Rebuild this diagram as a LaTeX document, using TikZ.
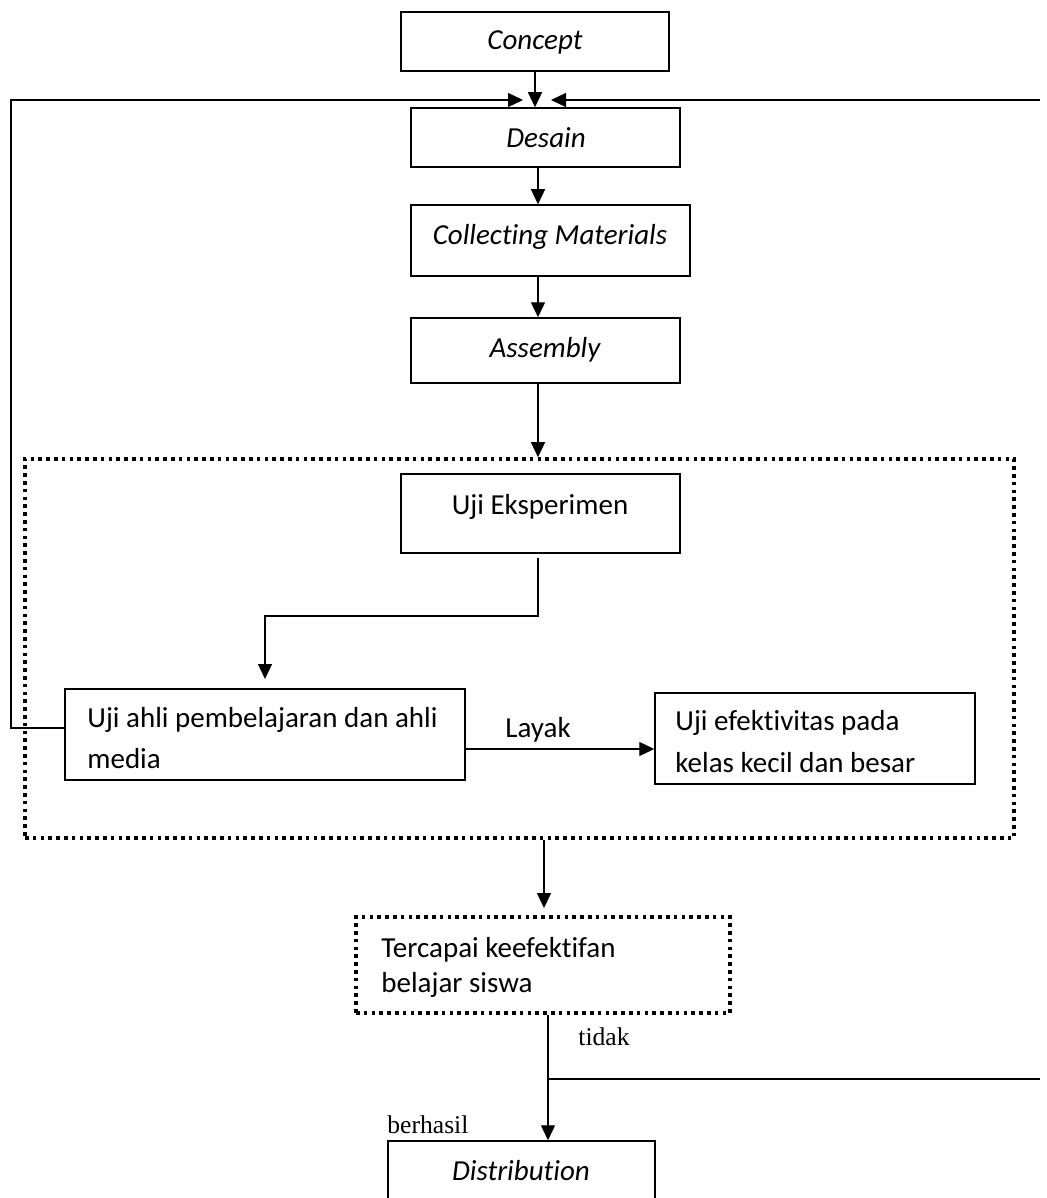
\documentclass[tikz,border=0pt]{standalone}
\usepackage{fontspec}
\setmainfont[RawFeature=-liga]{Carlito}
\newfontfamily\timesf{Liberation Serif}
\usetikzlibrary{arrows.meta,fit}
\tikzset{
 box/.style={draw, line width=0.75pt, inner sep=0pt},
 dotbox/.style={draw, line width=1.8pt, dash pattern=on 1.8pt off 2.1pt, inner sep=0pt},
 conn/.style={line width=0.65pt},
 arr/.style={conn, -{Triangle[length=7.5pt,width=7pt]}},
 txt/.style={font=\fontsize{14.5}{17}\selectfont, inner sep=0pt},
 ttxt/.style={font=\timesf\fontsize{12.8}{15}\selectfont, inner sep=0pt},
}
\begin{document}
\begin{tikzpicture}[x=0.5pt,y=-0.5pt]
\useasboundingbox (0,0) rectangle (1046,1198);
\clip (0,0) rectangle (1046,1198);
\fill[white] (0,0) rectangle (1046,1198);
% boxes
\node[box, fit={(401,12) (669,71)}] (concept) {};
\node[txt, anchor=base] (tconcept) at (535,50) {\itshape Concept};
\node[box, fit={(411,108) (680,167)}] (desain) {};
\node[txt, anchor=base] (tdesain) at (546,148) {\itshape Desain};
\node[box, fit={(411,205) (690,276)}] (collect) {};
\node[txt, anchor=base] (tcollect) at (550,244) {\itshape Collecting Materials};
\node[box, fit={(411,318) (680,383)}] (assembly) {};
\node[txt, anchor=base] (tassembly) at (545,357) {\itshape Assembly};
\node[dotbox, fit={(25,459) (1014,838)}] (outer) {};
\node[box, fit={(401,474) (680,553)}] (ujieks) {};
\node[txt, anchor=base] (tujieks) at (540,514) {Uji Eksperimen};
\node[box, fit={(65,689) (465,780)}] (ujiahli) {};
\node[txt, anchor=base west] (tujiahli1) at (87,727) {Uji ahli pembelajaran dan ahli};
\node[txt, anchor=base west] (tujiahli2) at (87,768) {media};
\node[box, fit={(655,693) (975,784)}] (ujieff) {};
\node[txt, anchor=base west] (tujieff1) at (675,730) {Uji efektivitas pada};
\node[txt, anchor=base west] (tujieff2) at (675,772) {kelas kecil dan besar};
\node[txt, anchor=base west] (tlayak) at (505,737) {Layak};
\node[dotbox, fit={(356,917) (730,1013)}] (tercapai) {};
\node[txt, anchor=base west] (ttercapai1) at (381,957) {Tercapai keefektifan};
\node[txt, anchor=base west] (ttercapai2) at (381,992) {belajar siswa};
\node[ttxt, anchor=base west] (ttidak) at (578,1045) {tidak};
\node[ttxt, anchor=base west] (tberhasil) at (387,1133) {berhasil};
\node[box, fit={(388,1141) (655,1215)}] (distrib) {};
\node[txt, anchor=base] (tdistrib) at (521,1180) {\itshape Distribution};
% coordinates
\coordinate (tipL) at (523,100);
\coordinate (tipR) at (551,100);
\coordinate (rtop) at (1040,100);
\coordinate (lx) at (11,0);
\coordinate (fy) at (0,728);
\coordinate (ax) at (538,0);
\coordinate (bend1) at (538,616);
\coordinate (k2) at (265,679);
\coordinate (ly) at (0,749);
\coordinate (cx) at (544,0);
\coordinate (k3) at (544,908);
\coordinate (dx) at (548,0);
\coordinate (tj) at (548,1079);
\coordinate (rbot) at (1040,1079);
% connectors
\draw[arr] (concept.south) -- (concept.south |- desain.north);
\draw[arr] (ujiahli.west |- fy) -- (lx |- fy) |- (tipL);
\draw[arr] (rtop) -- (tipR);
\draw[arr] (desain.south -| ax) -- (collect.north -| ax);
\draw[arr] (collect.south -| ax) -- (assembly.north -| ax);
\draw[arr] (assembly.south -| ax) -- (outer.north -| ax);
\draw[arr] (ujieks.south -| ax) ++(0,-2pt) -- (bend1) -| (k2);
\draw[arr] (ujiahli.east |- ly) -- (ujieff.west |- ly);
\draw[arr] (outer.south -| cx) -- (k3);
\draw[arr] (tercapai.south -| dx) -- (distrib.north -| dx);
\draw[conn] (tj) -- (rbot);
\end{tikzpicture}
\end{document}
